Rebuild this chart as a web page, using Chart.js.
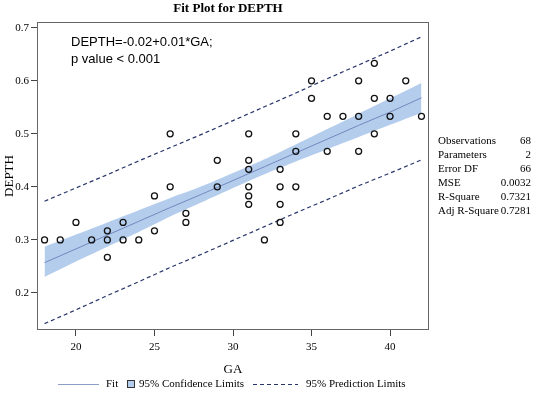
<!DOCTYPE html>
<html>
<head>
<meta charset="utf-8">
<script src="https://cdn.jsdelivr.net/npm/chart.js@4"></script>
<style>
  html, body { margin: 0; padding: 0; background: #fff; }
  #wrap { width: 536px; height: 393px; }
</style>
</head>
<body>
<div id="wrap"><canvas id="fitChart" width="536" height="393"></canvas></div>
<script>
// observed points (GA, DEPTH)
const gaObs = [18, 19, 20, 21, 22, 22, 22, 23, 23, 24, 25, 25, 26, 26, 27, 27,
    29, 29, 31, 31, 31, 31, 31, 31, 32, 33, 33, 33, 33, 34, 34, 34,
    35, 35, 36, 36, 37, 38, 38, 38, 39, 39, 39, 40, 40, 41, 42];
const depthObs = [0.300, 0.300, 0.333, 0.300, 0.317, 0.300, 0.267, 0.333, 0.300, 0.300, 0.317, 0.383, 0.500, 0.400, 0.350, 0.333,
    0.450, 0.400, 0.500, 0.450, 0.433, 0.400, 0.383, 0.367, 0.300, 0.433, 0.400, 0.367, 0.333, 0.500, 0.467, 0.400,
    0.600, 0.567, 0.533, 0.467, 0.533, 0.600, 0.533, 0.467, 0.633, 0.567, 0.500, 0.567, 0.533, 0.600, 0.533];

// fit line and limits read along the GA grid
const gaGrid = [18, 20, 22, 24, 26, 28, 30, 32, 34, 36, 38, 40, 42];
const fitValues = [0.257, 0.283, 0.309, 0.335, 0.361, 0.386, 0.412, 0.438, 0.464, 0.490, 0.516, 0.541, 0.568];
const ciLower = [0.230, 0.259, 0.287, 0.315, 0.344, 0.371, 0.398, 0.424, 0.448, 0.471, 0.494, 0.517, 0.540];
const ciUpper = [0.287, 0.310, 0.333, 0.356, 0.379, 0.401, 0.426, 0.452, 0.480, 0.509, 0.538, 0.567, 0.596];
const piLower = [0.142, 0.168, 0.195, 0.221, 0.248, 0.273, 0.299, 0.325, 0.351, 0.376, 0.402, 0.426, 0.451];
const piUpper = [0.373, 0.398, 0.423, 0.449, 0.474, 0.499, 0.525, 0.551, 0.577, 0.604, 0.630, 0.656, 0.683];

const xTickValues = [20, 25, 30, 35, 40];
const yTickValues = [0.2, 0.3, 0.4, 0.5, 0.6, 0.7];

const fitLabel = ['DEPTH=-0.02+0.01*GA;', 'p value < 0.001'];
const statNames = ['Observations', 'Parameters', 'Error DF', 'MSE', 'R-Square', 'Adj R-Square'];
const statValues = ['68', '2', '66', '0.0032', '0.7321', '0.7281'];
const legendNames = ['Fit', '95% Confidence Limits', '95% Prediction Limits'];

const serif = "'Liberation Serif', 'Times New Roman', serif";
const sans = "'Liberation Sans', Arial, sans-serif";
const bandColor = 'rgba(135,175,225,0.62)';
const fitColor = '#7088bd';
const predColor = '#27356a';

function toPoints(xs, ys) {
    return xs.map((x, i) => ({ x: x, y: ys[i] }));
}

// draws title, border, annotation, stats table and legend
const extrasPlugin = {
    id: 'extras',
    afterDraw(chart) {
        const ctx = chart.ctx;
        const area = chart.chartArea;
        ctx.save();

        // plot frame
        ctx.strokeStyle = '#666';
        ctx.lineWidth = 1;
        ctx.strokeRect(area.left + 0.5, area.top + 0.5, area.right - area.left - 1, area.bottom - area.top - 1);

        // title
        ctx.fillStyle = '#000';
        ctx.font = 'bold 13px ' + serif;
        ctx.textAlign = 'center';
        ctx.textBaseline = 'middle';
        ctx.fillText('Fit Plot for DEPTH', 228, 9);

        // equation inside plot
        ctx.font = '13px ' + sans;
        ctx.textAlign = 'left';
        ctx.fillText(fitLabel[0], 71, 42);
        ctx.fillText(fitLabel[1], 71, 59);

        // stats table
        ctx.font = '11px ' + serif;
        statNames.forEach((name, i) => {
            const y = 141 + i * 14;
            ctx.textAlign = 'left';
            ctx.fillText(name, 438, y);
            ctx.textAlign = 'right';
            ctx.fillText(statValues[i], 531, y);
        });

        // legend
        const ly = 384;
        ctx.textAlign = 'left';
        ctx.strokeStyle = '#8d9dc6';
        ctx.lineWidth = 1;
        ctx.beginPath();
        ctx.moveTo(58, ly + 0.5);
        ctx.lineTo(99, ly + 0.5);
        ctx.stroke();
        ctx.fillText(legendNames[0], 106, ly);

        ctx.fillStyle = bandColor;
        ctx.fillRect(127, ly - 4, 8, 8);
        ctx.strokeStyle = '#333';
        ctx.strokeRect(127.5, ly - 3.5, 7, 7);
        ctx.fillStyle = '#000';
        ctx.fillText(legendNames[1], 139, ly);

        ctx.strokeStyle = predColor;
        ctx.setLineDash([4, 3]);
        ctx.lineWidth = 1.2;
        ctx.beginPath();
        ctx.moveTo(253, ly + 0.5);
        ctx.lineTo(298, ly + 0.5);
        ctx.stroke();
        ctx.setLineDash([]);
        ctx.fillText(legendNames[2], 306, ly);

        ctx.restore();
    }
};

const ctx = document.getElementById('fitChart').getContext('2d');

new Chart(ctx, {
    type: 'scatter',
    data: {
        datasets: [
            {
                label: 'Observed',
                data: toPoints(gaObs, depthObs),
                pointRadius: 3,
                pointBorderWidth: 1.3,
                pointBorderColor: '#111',
                pointBackgroundColor: 'rgba(0,0,0,0)',
                showLine: false,
            },
            {
                label: 'Fit',
                data: toPoints(gaGrid, fitValues),
                showLine: true,
                borderColor: fitColor,
                borderWidth: 1,
                pointRadius: 0,
                fill: false,
            },
            {
                label: 'CI lower',
                data: toPoints(gaGrid, ciLower),
                showLine: true,
                borderWidth: 0,
                borderColor: 'rgba(0,0,0,0)',
                pointRadius: 0,
                tension: 0.3,
                fill: false,
            },
            {
                label: 'CI upper',
                data: toPoints(gaGrid, ciUpper),
                showLine: true,
                borderWidth: 0,
                borderColor: 'rgba(0,0,0,0)',
                backgroundColor: bandColor,
                pointRadius: 0,
                tension: 0.3,
                fill: '-1',
            },
            {
                label: 'PI lower',
                data: toPoints(gaGrid, piLower),
                showLine: true,
                borderColor: predColor,
                borderWidth: 1.2,
                borderDash: [4, 3],
                pointRadius: 0,
                fill: false,
            },
            {
                label: 'PI upper',
                data: toPoints(gaGrid, piUpper),
                showLine: true,
                borderColor: predColor,
                borderWidth: 1.2,
                borderDash: [4, 3],
                pointRadius: 0,
                fill: false,
            },
        ],
    },
    options: {
        responsive: false,
        animation: false,
        layout: {
            padding: { top: 22, right: 107, bottom: 15, left: 0 },
        },
        plugins: {
            legend: { display: false },
            title: { display: false },
            tooltip: { enabled: false },
        },
        scales: {
            x: {
                type: 'linear',
                min: 17.52,
                max: 42.48,
                afterBuildTicks: scale => { scale.ticks = xTickValues.map(v => ({ value: v })); },
                afterFit: scale => { scale.height = 48; },
                grid: { drawOnChartArea: false, drawTicks: true, tickLength: 6, color: '#444' },
                border: { display: false },
                ticks: {
                    padding: 5,
                    color: '#000',
                    font: { family: serif, size: 11 },
                    callback: v => String(v),
                },
                title: {
                    display: true,
                    text: 'GA',
                    color: '#000',
                    font: { family: serif, size: 13 },
                    padding: { top: 0, bottom: 1 },
                },
            },
            y: {
                type: 'linear',
                min: 0.130,
                max: 0.711,
                afterBuildTicks: scale => { scale.ticks = yTickValues.map(v => ({ value: v })); },
                afterFit: scale => { scale.width = 37; },
                grid: { drawOnChartArea: false, drawTicks: true, tickLength: 6, color: '#444' },
                border: { display: false },
                ticks: {
                    padding: 2,
                    color: '#000',
                    font: { family: serif, size: 11 },
                    callback: v => v.toFixed(1),
                },
                title: {
                    display: true,
                    text: 'DEPTH',
                    color: '#000',
                    font: { family: serif, size: 13 },
                    padding: { top: 2, bottom: 0 },
                },
            },
        },
    },
    plugins: [extrasPlugin],
});
</script>
</body>
</html>
